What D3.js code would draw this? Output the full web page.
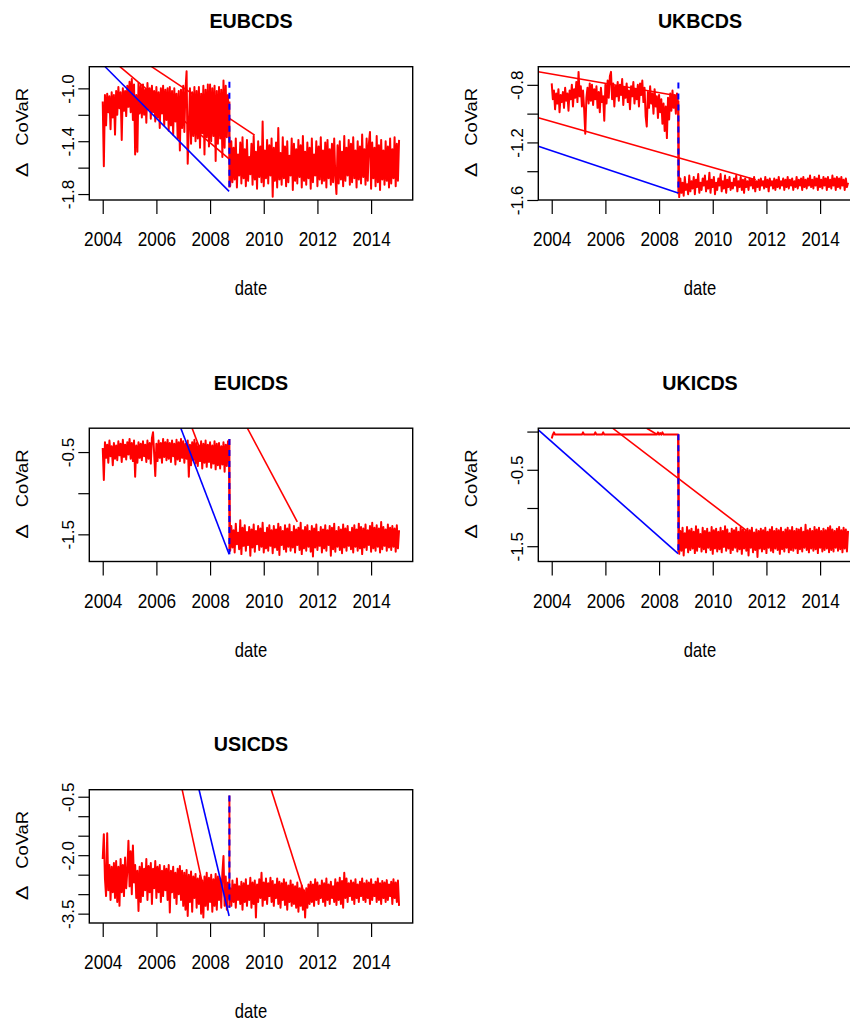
<!DOCTYPE html>
<html>
<head>
<meta charset="utf-8">
<script src="https://cdn.jsdelivr.net/npm/d3@7"></script>
<style>
  body { margin: 0; background: #fff; }
  svg { display: block; }
  text { font-family: "Liberation Sans", Arial, Helvetica, sans-serif; fill: #000; }
</style>
</head>
<body>
<svg id="chart" width="850" height="1023"></svg>
<script>
// panel titles
const titles = ['EUBCDS', 'UKBCDS', 'EUICDS', 'UKICDS', 'USICDS'];

// x axis: two observations a month starting Jan 2004
const startYear = 2004;
const perYear = 24;
const xLimits = [2003.5, 2015.55];
const xTicks = [2004, 2006, 2008, 2010, 2012, 2014];
const breakYear = 2008.72;

// Delta CoVaR, half-monthly readings (2004.0 .. 2015.04)
const eubcds = [
  -1.10, -1.59, -1.05, -1.28, -1.04, -1.18, -1.06, -1.31, -1.03, -1.22, -1.05, -1.35,
  -1.02, -1.20, -0.99, -1.15, -1.03, -1.39, -1.00, -1.17, -1.02, -1.21, -0.98, -1.14,
  -0.95, -1.18, -0.93, -1.24, -0.97, -1.50, -1.05, -1.48, -0.96, -1.19, -0.98, -1.22,
  -0.97, -1.20, -1.01, -1.26, -0.96, -1.16, -1.00, -1.23, -0.98, -1.18, -1.02, -1.25,
  -0.99, -1.22, -1.03, -1.30, -1.00, -1.19, -0.98, -1.28, -1.01, -1.24, -1.00, -1.32,
  -0.99, -1.28, -1.02, -1.35, -1.00, -1.25, -1.04, -1.38, -1.02, -1.47, -1.01, -1.30,
  -0.98, -1.33, -1.01, -0.87, -1.57, -1.30, -1.00, -1.42, -1.03, -1.36, -0.99, -1.40,
  -1.02, -1.38, -0.99, -1.45, -1.04, -1.34, -0.98, -1.50, -1.01, -1.37, -0.97, -1.44,
  -0.97, -1.40, -1.00, -1.36, -0.98, -1.55, -1.02, -1.42, -0.99, -1.38, -1.01, -1.52,
  -0.94, -1.45, -0.98, -1.37, -1.05, -1.30,
  -1.74, -1.40, -1.71, -1.45, -1.69, -1.38, -1.75, -1.50, -1.66, -1.41, -1.72, -1.37,
  -1.68, -1.46, -1.74, -1.39, -1.70, -1.52, -1.65, -1.42, -1.73, -1.36, -1.69, -1.48,
  -1.76, -1.40, -1.67, -1.44, -1.71, -1.25, -1.74, -1.47, -1.68, -1.39, -1.72, -1.43,
  -1.66, -1.38, -1.82, -1.45, -1.70, -1.41, -1.75, -1.30, -1.69, -1.49, -1.73, -1.37,
  -1.68, -1.44, -1.74, -1.40, -1.71, -1.51, -1.66, -1.38, -1.77, -1.42, -1.70, -1.46,
  -1.72, -1.39, -1.67, -1.43, -1.75, -1.36, -1.70, -1.48, -1.73, -1.41, -1.68, -1.45,
  -1.76, -1.38, -1.71, -1.50, -1.66, -1.40, -1.74, -1.44, -1.69, -1.37, -1.72, -1.47,
  -1.70, -1.41, -1.75, -1.39, -1.68, -1.46, -1.73, -1.42, -1.71, -1.38, -1.67, -1.80,
  -1.43, -1.72, -1.40, -1.69, -1.48, -1.74, -1.36, -1.70, -1.45, -1.66, -1.39, -1.73,
  -1.42, -1.71, -1.37, -1.68, -1.47, -1.75, -1.40, -1.69, -1.44, -1.72, -1.35, -1.67,
  -1.46, -1.73, -1.38, -1.70, -1.42, -1.33, -1.76, -1.41, -1.68, -1.45, -1.74, -1.36,
  -1.71, -1.43, -1.77, -1.39, -1.69, -1.47, -1.73, -1.40, -1.70, -1.44, -1.75, -1.38,
  -1.72, -1.46, -1.68, -1.37, -1.74, -1.42, -1.70, -1.39
];
const ukbcds = [
  -0.79, -0.90, -0.84, -0.97, -0.86, -0.93, -0.83, -0.99, -0.87, -0.92, -0.85, -0.96,
  -0.82, -0.91, -0.86, -0.98, -0.84, -0.90, -0.80, -0.95, -0.83, -0.89, -0.78, -0.92,
  -0.71, -0.88, -0.81, -0.95, -0.84, -0.97, -1.14, -0.89, -0.82, -0.93, -0.79, -0.91,
  -0.80, -0.94, -0.83, -0.90, -0.81, -0.96, -0.85, -0.99, -0.82, -0.92, -0.88, -1.05,
  -0.80, -0.93, -0.77, -0.89, -0.74, -0.71, -0.90, -0.79, -0.95, -0.81, -0.88, -0.78,
  -0.91, -0.80, -0.87, -0.76, -0.94, -0.82, -0.89, -0.79, -0.92, -0.84, -0.97, -0.81,
  -0.88, -0.78, -0.93, -0.83, -0.90, -0.80, -0.95, -0.79, -0.87, -0.77, -0.92, -0.82,
  -1.02, -1.09, -0.85, -0.96, -0.81, -0.93, -0.86, -1.00, -0.83, -0.95, -0.88, -1.03,
  -0.87, -0.99, -0.90, -1.07, -0.93, -1.12, -0.95, -1.17, -0.89, -1.04, -0.86, -0.98,
  -0.84, -0.96, -0.87, -1.00, -0.86, -0.93,
  -1.58, -1.45, -1.55, -1.48, -1.57, -1.44, -1.53, -1.49, -1.56, -1.43, -1.54, -1.47,
  -1.52, -1.44, -1.56, -1.46, -1.51, -1.42, -1.55, -1.48, -1.53, -1.45, -1.50, -1.43,
  -1.54, -1.47, -1.52, -1.41, -1.55, -1.46, -1.51, -1.44, -1.56, -1.48, -1.53, -1.45,
  -1.50, -1.42, -1.54, -1.47, -1.52, -1.43, -1.55, -1.46, -1.51, -1.44, -1.53, -1.48,
  -1.52, -1.45, -1.50, -1.43, -1.54, -1.47, -1.51, -1.44, -1.53, -1.46, -1.55, -1.45,
  -1.51, -1.47, -1.53, -1.45, -1.50, -1.46, -1.52, -1.44, -1.54, -1.47, -1.51, -1.46,
  -1.53, -1.45, -1.50, -1.47, -1.52, -1.44, -1.51, -1.46, -1.54, -1.45, -1.50, -1.47,
  -1.52, -1.45, -1.53, -1.46, -1.51, -1.44, -1.52, -1.47, -1.50, -1.45, -1.53, -1.46,
  -1.51, -1.44, -1.52, -1.46, -1.50, -1.45, -1.53, -1.47, -1.51, -1.44, -1.52, -1.46,
  -1.50, -1.45, -1.53, -1.44, -1.51, -1.46, -1.52, -1.45, -1.50, -1.43, -1.51, -1.46,
  -1.52, -1.44, -1.50, -1.45, -1.53, -1.43, -1.51, -1.46, -1.52, -1.44, -1.50, -1.45,
  -1.53, -1.44, -1.51, -1.46, -1.52, -1.43, -1.50, -1.45, -1.53, -1.44, -1.51, -1.45,
  -1.52, -1.44, -1.50, -1.46, -1.53, -1.45, -1.51, -1.48
];
const euicds = [
  -0.45, -0.84, -0.38, -0.57, -0.41, -0.63, -0.36, -0.55, -0.43, -0.66, -0.39, -0.58,
  -0.42, -0.60, -0.37, -0.54, -0.40, -0.62, -0.35, -0.56, -0.41, -0.59, -0.38, -0.53,
  -0.34, -0.58, -0.39, -0.61, -0.36, -0.80, -0.42, -0.63, -0.38, -0.57, -0.40, -0.60,
  -0.37, -0.55, -0.41, -0.62, -0.36, -0.58, -0.39, -0.64, -0.33, -0.26, -0.52, -0.79,
  -0.40, -0.61, -0.36, -0.57, -0.39, -0.63, -0.34, -0.56, -0.38, -0.60, -0.35, -0.58,
  -0.39, -0.62, -0.36, -0.55, -0.40, -0.65, -0.35, -0.59, -0.38, -0.61, -0.34, -0.57,
  -0.37, -0.63, -0.40, -0.58, -0.36, -0.80, -0.41, -0.66, -0.38, -0.60, -0.35, -0.64,
  -0.39, -0.67, -0.42, -0.61, -0.37, -0.70, -0.40, -0.63, -0.36, -0.68, -0.41, -0.62,
  -0.38, -0.69, -0.42, -0.64, -0.37, -0.71, -0.40, -0.66, -0.39, -0.70, -0.43, -0.65,
  -0.38, -0.74, -0.41, -0.67, -0.37, -0.60,
  -1.70, -1.40, -1.66, -1.45, -1.72, -1.37, -1.62, -1.48, -1.68, -1.33, -1.74, -1.42,
  -1.64, -1.39, -1.70, -1.47, -1.63, -1.41, -1.76, -1.44, -1.66, -1.38, -1.71, -1.46,
  -1.62, -1.40, -1.69, -1.43, -1.65, -1.36, -1.72, -1.48, -1.67, -1.42, -1.70, -1.39,
  -1.64, -1.45, -1.73, -1.40, -1.66, -1.44, -1.69, -1.37, -1.75, -1.41, -1.63, -1.46,
  -1.68, -1.39, -1.71, -1.43, -1.65, -1.38, -1.70, -1.47, -1.66, -1.40, -1.72, -1.44,
  -1.63, -1.42, -1.69, -1.36, -1.74, -1.45, -1.67, -1.41, -1.70, -1.39, -1.65, -1.46,
  -1.71, -1.40, -1.77, -1.43, -1.66, -1.38, -1.69, -1.47, -1.64, -1.41, -1.72, -1.44,
  -1.67, -1.39, -1.70, -1.45, -1.63, -1.40, -1.76, -1.42, -1.68, -1.37, -1.71, -1.46,
  -1.65, -1.41, -1.69, -1.44, -1.73, -1.38, -1.66, -1.43, -1.70, -1.40, -1.64, -1.47,
  -1.68, -1.42, -1.72, -1.39, -1.65, -1.44, -1.70, -1.37, -1.67, -1.41, -1.74, -1.43,
  -1.66, -1.38, -1.69, -1.45, -1.63, -1.40, -1.71, -1.36, -1.67, -1.42, -1.70, -1.39,
  -1.65, -1.43, -1.72, -1.35, -1.68, -1.41, -1.64, -1.44, -1.70, -1.38, -1.66, -1.42,
  -1.69, -1.40, -1.65, -1.43, -1.71, -1.39, -1.67, -1.45
];
const ukicds = [
  -0.09, -0.04, -0.01, -0.04, -0.04, -0.04, -0.04, -0.04, -0.04, -0.04, -0.04, -0.04,
  -0.04, -0.04, -0.04, -0.04, -0.04, -0.04, -0.04, -0.04, -0.04, -0.04, -0.04, -0.04,
  -0.04, -0.04, -0.04, -0.04, -0.01, -0.04, -0.04, -0.04, -0.04, -0.04, -0.04, -0.04,
  -0.04, -0.04, -0.04, -0.01, -0.04, -0.04, -0.04, -0.04, -0.04, -0.04, -0.01, -0.04,
  -0.04, -0.04, -0.04, -0.04, -0.04, -0.04, -0.04, -0.04, -0.04, -0.04, -0.04, -0.04,
  -0.04, -0.04, -0.04, -0.04, -0.04, -0.04, -0.04, -0.04, -0.04, -0.04, -0.04, -0.04,
  -0.04, -0.04, -0.04, -0.04, -0.04, -0.04, -0.04, -0.04, -0.04, -0.04, -0.04, -0.04,
  -0.04, -0.04, -0.04, -0.04, -0.04, -0.04, -0.04, -0.04, -0.04, -0.04, -0.04, -0.01,
  -0.04, -0.02, -0.04, -0.01, -0.04, -0.04, -0.04, -0.04, -0.04, -0.04, -0.04, -0.04,
  -0.04, -0.04, -0.04, -0.04, -0.04, -0.04,
  -1.60, -1.30, -1.56, -1.26, -1.62, -1.33, -1.52, -1.25, -1.58, -1.29, -1.55, -1.27,
  -1.53, -1.31, -1.59, -1.24, -1.56, -1.28, -1.51, -1.34, -1.57, -1.26, -1.54, -1.30,
  -1.58, -1.27, -1.52, -1.32, -1.55, -1.25, -1.60, -1.29, -1.53, -1.27, -1.57, -1.31,
  -1.54, -1.26, -1.58, -1.30, -1.51, -1.24, -1.56, -1.28, -1.53, -1.33, -1.59, -1.27,
  -1.55, -1.29, -1.52, -1.26, -1.57, -1.31, -1.54, -1.25, -1.60, -1.28, -1.53, -1.30,
  -1.56, -1.27, -1.62, -1.29, -1.52, -1.26, -1.58, -1.32, -1.55, -1.28, -1.64, -1.30,
  -1.53, -1.27, -1.57, -1.29, -1.54, -1.26, -1.59, -1.31, -1.52, -1.28, -1.56, -1.25,
  -1.58, -1.30, -1.53, -1.27, -1.55, -1.29, -1.60, -1.26, -1.54, -1.31, -1.57, -1.28,
  -1.52, -1.26, -1.58, -1.29, -1.55, -1.25, -1.56, -1.30, -1.53, -1.27, -1.59, -1.28,
  -1.54, -1.26, -1.57, -1.31, -1.52, -1.22, -1.55, -1.29, -1.58, -1.27, -1.53, -1.30,
  -1.56, -1.25, -1.54, -1.28, -1.59, -1.26, -1.52, -1.30, -1.57, -1.27, -1.55, -1.29,
  -1.53, -1.26, -1.58, -1.24, -1.55, -1.28, -1.57, -1.30, -1.52, -1.27, -1.56, -1.25,
  -1.54, -1.29, -1.58, -1.26, -1.53, -1.28, -1.57, -1.30
];
const usicds = [
  -2.10, -1.46, -2.60, -3.05, -1.44, -2.90, -2.25, -3.15, -2.30, -2.95, -2.20, -3.10,
  -2.15, -3.20, -2.30, -3.30, -2.10, -2.95, -2.25, -3.05, -2.06, -2.85, -2.40, -1.63,
  -2.80, -1.90, -3.00, -1.75, -2.70, -2.25, -3.10, -2.40, -3.43, -2.30, -3.20, -2.20,
  -3.05, -2.35, -2.90, -2.10, -3.15, -2.28, -2.95, -2.20, -3.25, -2.35, -2.85, -2.15,
  -3.10, -2.30, -2.95, -2.25, -3.20, -2.40, -3.05, -2.28, -2.90, -2.35, -3.15, -2.25,
  -3.47, -2.40, -2.95, -2.30, -3.10, -2.45, -3.25, -2.35, -3.00, -2.28, -3.15, -2.40,
  -3.30, -2.45, -3.40, -2.38, -3.56, -2.50, -3.20, -2.42, -3.45, -2.55, -3.10, -2.48,
  -3.35, -2.60, -3.25, -2.52, -3.50, -2.65, -3.60, -2.55, -3.30, -2.45, -3.40, -2.58,
  -3.20, -2.50, -3.45, -2.62, -3.30, -2.48, -3.40, -2.55, -3.15, -2.60, -3.35, -2.45,
  -2.02, -3.30, -2.55, -3.40, -2.70, -3.10,
  -2.85, -3.30, -2.65, -3.20, -2.75, -3.35, -2.60, -3.15, -2.80, -3.25, -2.68, -3.40,
  -2.72, -3.20, -2.62, -3.30, -2.78, -3.15, -2.58, -3.35, -2.70, -3.25, -2.65, -3.60,
  -2.75, -3.20, -2.62, -3.10, -2.45, -3.30, -2.70, -3.15, -2.60, -3.25, -2.72, -3.05,
  -2.58, -3.20, -2.66, -3.30, -2.75, -3.10, -2.60, -3.25, -2.68, -3.35, -2.72, -3.15,
  -2.62, -3.28, -2.70, -3.40, -2.78, -3.20, -2.65, -3.30, -2.75, -3.25, -2.80, -3.35,
  -2.70, -3.45, -2.85, -3.30, -2.78, -3.40, -2.90, -3.60, -2.85, -3.35, -2.75, -3.25,
  -2.68, -3.20, -2.75, -3.30, -2.62, -3.15, -2.70, -3.25, -2.78, -3.10, -2.65, -3.20,
  -2.72, -3.30, -2.60, -3.15, -2.75, -3.25, -2.68, -3.10, -2.80, -3.20, -2.62, -3.28,
  -2.70, -3.15, -2.58, -3.25, -2.66, -3.35, -2.45, -3.10, -2.60, -3.20, -2.72, -3.05,
  -2.65, -3.15, -2.70, -3.25, -2.62, -3.10, -2.75, -3.20, -2.68, -3.05, -2.60, -3.15,
  -2.72, -3.20, -2.65, -3.10, -2.70, -3.25, -2.62, -3.15, -2.75, -3.05, -2.68, -3.20,
  -2.60, -3.15, -2.72, -3.25, -2.66, -3.10, -2.70, -3.20, -2.64, -3.15, -2.75, -3.05,
  -2.68, -3.25, -2.62, -3.10, -2.70, -3.20, -2.65, -3.30
];

// straight connecting segments [[year, value], [year, value]]
const eubcdsRed = [[[2004.64, -0.836], [2008.72, -1.535]], [[2005.82, -0.836], [2009.66, -1.354]]];
const eubcdsBlue = [[[2004.09, -0.836], [2008.71, -1.78]]];
const ukbcdsRed = [[[2003.5, -0.709], [2008.72, -0.877]], [[2003.5, -1.028], [2011.6, -1.46]]];
const ukbcdsBlue = [[[2003.5, -1.226], [2008.71, -1.551]]];
const euicdsRed = [[[2007.33, -0.21], [2007.68, -0.51]], [[2009.39, -0.21], [2011.25, -1.347]]];
const euicdsBlue = [[[2006.91, -0.21], [2008.71, -1.742]]];
const ukicdsRed = [[[2006.27, 0.044], [2011.32, -1.312]], [[2007.54, 0.044], [2007.91, -0.035]]];
const ukicdsBlue = [[[2003.5, 0.022], [2008.71, -1.597]]];
const usicdsRed = [[[2006.96, -0.32], [2007.80, -3.0]], [[2010.28, -0.32], [2011.52, -3.0]]];
const usicdsBlue = [[[2007.59, -0.32], [2008.71, -3.56]]];

// vertical break line at breakYear: [top, bottom] of the red and of the dashed blue part
const breakRed = [[-1.10, -1.75], [-0.91, -1.56], [-0.34, -1.69], [-0.035, -1.58], [-0.47, -3.35]];
const breakBlue = [[-0.95, -1.78], [-0.784, -1.551], [-0.34, -1.742], [-0.035, -1.597], [-0.47, -3.35]];

// y axis limits, ticks and the ticks that carry a label
const yLimits = [[-1.845, -0.836], [-1.60, -0.674], [-1.83, -0.21], [-1.70, 0.044], [-3.74, -0.32]];
const yTicks = [
  [-1.8, -1.6, -1.4, -1.2, -1.0],
  [-1.6, -1.4, -1.2, -1.0, -0.8],
  [-1.5, -1.0, -0.5],
  [-1.5, -1.0, -0.5, 0.0],
  [-3.5, -3.0, -2.5, -2.0, -1.5, -1.0, -0.5]
];
const yLabels = [
  [-1.8, -1.4, -1.0],
  [-1.6, -1.2, -0.8],
  [-1.5, -0.5],
  [-1.5, -0.5],
  [-3.5, -2.0, -0.5]
];

const seriesList = [eubcds, ukbcds, euicds, ukicds, usicds];
const redList = [eubcdsRed, ukbcdsRed, euicdsRed, ukicdsRed, usicdsRed];
const blueList = [eubcdsBlue, ukbcdsBlue, euicdsBlue, ukicdsBlue, usicdsBlue];

// layout
const colX = [89.3, 538.3];
const rowY = [66.7, 428.2, 789.7];
const boxW = 323.4, boxH = 133.3;
const RED = '#ff0000', BLUE = '#0000ff';

const svg = d3.select('#chart');

titles.forEach((title, k) => {
  const g = svg.append('g')
    .attr('transform', `translate(${colX[k % 2]},${rowY[Math.floor(k / 2)]})`);

  const x = d3.scaleLinear().domain(xLimits).range([0, boxW]);
  const y = d3.scaleLinear().domain(yLimits[k]).range([boxH, 0]);

  svg.append('clipPath').attr('id', `clip${k}`)
    .append('rect').attr('width', boxW).attr('height', boxH);

  const plot = g.append('g').attr('clip-path', `url(#clip${k})`);

  const line = d3.line()
    .x((d, i) => x(startYear + i / perYear))
    .y(d => y(d));

  plot.append('path')
    .datum(seriesList[k])
    .attr('d', line)
    .attr('fill', 'none')
    .attr('stroke', RED)
    .attr('stroke-width', 2)
    .attr('stroke-linejoin', 'round');

  const seg = d3.line().x(d => x(d[0])).y(d => y(d[1]));

  redList[k].forEach(s => {
    plot.append('path').attr('d', seg(s))
      .attr('fill', 'none').attr('stroke', RED).attr('stroke-width', 1.6);
  });

  plot.append('path')
    .attr('d', seg([[breakYear, breakRed[k][0]], [breakYear, breakRed[k][1]]]))
    .attr('fill', 'none').attr('stroke', RED).attr('stroke-width', 2);

  blueList[k].forEach(s => {
    plot.append('path').attr('d', seg(s))
      .attr('fill', 'none').attr('stroke', BLUE).attr('stroke-width', 1.6);
  });

  plot.append('path')
    .attr('d', seg([[breakYear, breakBlue[k][0]], [breakYear, breakBlue[k][1]]]))
    .attr('fill', 'none').attr('stroke', BLUE).attr('stroke-width', 2)
    .attr('stroke-dasharray', '6,5');

  // x axis
  const xAxis = g.append('g')
    .attr('transform', `translate(0,${boxH})`)
    .call(d3.axisBottom(x).tickValues(xTicks).tickSize(14).tickFormat(d3.format('d')));
  xAxis.select('.domain').remove();
  xAxis.selectAll('line').attr('stroke-width', 1.2);
  xAxis.selectAll('text')
    .attr('x', 0).attr('y', 0).attr('dy', 0)
    .attr('transform', 'translate(0,46) scale(1,1.16)')
    .style('font-size', '17.2px');

  // y axis, labels drawn along the axis
  const yAxis = g.append('g')
    .call(d3.axisLeft(y).tickValues(yTicks[k]).tickSize(11)
      .tickFormat(d => yLabels[k].includes(d) ? d.toFixed(1) : ''));
  yAxis.select('.domain').remove();
  yAxis.selectAll('line').attr('stroke-width', 1.2);
  yAxis.selectAll('text')
    .attr('x', 0).attr('y', 0).attr('dy', 0)
    .attr('text-anchor', 'middle')
    .attr('transform', 'translate(-15,0) rotate(-90) scale(1.1,1)')
    .style('font-size', '15.6px');

  // frame
  g.append('rect')
    .attr('width', boxW).attr('height', boxH)
    .attr('fill', 'none').attr('stroke', '#000').attr('stroke-width', 1.4);

  // title and axis titles
  g.append('text')
    .attr('transform', `translate(${boxW / 2},-38.4) scale(1,1.06)`)
    .attr('text-anchor', 'middle')
    .style('font-size', '19.7px').style('font-weight', 'bold')
    .text(title);

  g.append('text')
    .attr('transform', `translate(${boxW / 2},228.3) scale(1,1.2)`)
    .attr('text-anchor', 'middle')
    .style('font-size', '16.6px')
    .text('date');

  const ylab = g.append('g')
    .attr('transform', `translate(-61.5,${boxH / 2}) rotate(-90)`);
  ylab.append('text')
    .attr('transform', 'translate(-44,0) scale(1.35,1)')
    .style('font-size', '16.4px')
    .text('\u0394');
  ylab.append('text')
    .attr('x', -12.5)
    .attr('textLength', 58).attr('lengthAdjust', 'spacingAndGlyphs')
    .style('font-size', '16.4px')
    .text('CoVaR');
});
</script>
</body>
</html>
